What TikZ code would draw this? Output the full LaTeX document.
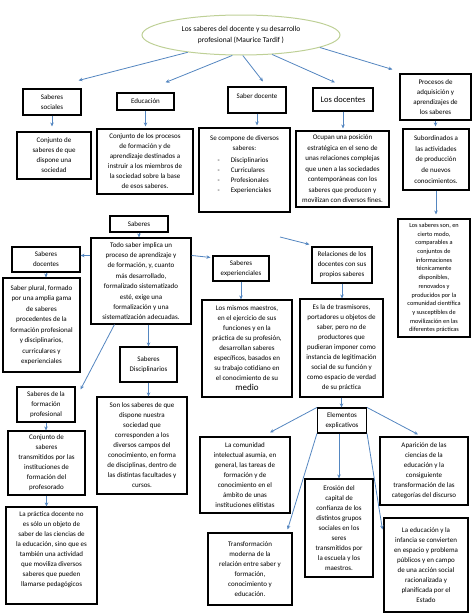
\documentclass[tikz,border=0pt]{standalone}
\usepackage{fontspec}
\setmainfont{Carlito}
\usetikzlibrary{shapes.geometric, arrows.meta}
\definecolor{flecha}{RGB}{84,134,192}
\definecolor{oliva}{RGB}{190,208,150}

\begin{document}
\begin{tikzpicture}[
    x=1pt, y=-1pt,
    caja/.style={draw, line width=1.1pt, align=center, inner sep=0pt, font=\fontsize{7}{10}\selectfont},
    every edge/.style={draw, -{Stealth[length=4pt, width=3.5pt]}, line width=0.8pt, flecha},
]
  \useasboundingbox (0,0) rectangle (474,613);

  \node[ellipse, draw=oliva, line width=1pt, minimum width=198pt, minimum height=40pt, inner sep=0pt, align=center, font=\fontsize{7.5}{11}\selectfont] (titulo) at (241,35) {Los saberes del docente y su desarrollo\\profesional (Maurice Tardif )};

  \node[caja, minimum width=58pt, minimum height=26pt] (sociales) at (52,102) {Saberes\\sociales};
  \node[caja, minimum width=57pt, minimum height=17pt] (educacion) at (145.5,101.5) {Educación};
  \node[caja, minimum width=58pt, minimum height=26pt, text depth=7pt] (saberdoc) at (257,100) {Saber docente};
  \node[caja, minimum width=60pt, minimum height=23pt, font=\fontsize{8.5}{10}\selectfont] (docentes) at (343,99.5) {Los docentes};
  \node[caja, minimum width=71pt, minimum height=46pt] (procesos) at (435.5,97) {Procesos de\\adquisición y\\aprendizajes de\\los saberes};

  \node[caja, minimum width=74pt, minimum height=47pt] (conjsoc) at (54,155.5) {Conjunto de\\saberes de que\\dispone una\\sociedad};
  \node[caja, minimum width=96pt, minimum height=65pt] (conjproc) at (145,161.5) {Conjunto de los procesos\\de formación y de\\aprendizaje destinados a\\instruir a los miembros de\\la sociedad sobre la base\\de esos saberes.};
  \node[caja, minimum width=91pt, minimum height=84pt] (compone) at (244.5,170) {Se compone de diversos\\saberes:\\[4pt]
    \begin{tabular}{@{}l@{\hspace{11pt}}l@{}}
      - & Disciplinarios\\
      - & Curriculares\\
      - & Profesionales\\
      - & Experienciales
    \end{tabular}\\[8pt]~};
  \node[caja, minimum width=93pt, minimum height=76pt, font=\fontsize{7}{10.5}\selectfont] (ocupan) at (342.5,169) {Ocupan una posición\\estratégica en el seno de\\unas relaciones complejas\\que unen a las sociedades\\contemporáneas con los\\saberes que producen y\\movilizan con diversos fines.};
  \node[caja, minimum width=66pt, minimum height=61pt, font=\fontsize{7}{10.7}\selectfont] (subord) at (436,159.5) {Subordinados a\\las actividades\\de producción\\de nuevos\\conocimientos.};
  \node[caja, minimum width=72pt, minimum height=118pt, font=\fontsize{6.3}{8.7}\selectfont] (lossab) at (434,278) {Los saberes son, en\\cierto modo,\\comparables a\\conjuntos de\\informaciones\\técnicamente\\disponibles,\\renovados y\\producidos por la\\comunidad científica\\y susceptibles de\\movilización en las\\diferentes prácticas};

  \node[caja, minimum width=58pt, minimum height=16pt] (saberes) at (139,224) {Saberes};
  \node[caja, minimum width=100pt, minimum height=86pt, font=\fontsize{7}{10.4}\selectfont] (todo) at (141,281) {Todo saber implica un\\proceso de aprendizaje y\\de formación, y, cuanto\\más desarrollado,\\formalizado sistematizado\\esté, exige una\\formalización y una\\sistematización adecuadas.};
  \node[caja, minimum width=68pt, minimum height=25pt] (sabdoc) at (46,259.5) {Saberes\\docentes};
  \node[caja, minimum width=77pt, minimum height=94pt, font=\fontsize{7}{10.5}\selectfont] (plural) at (41.5,325) {Saber plural, formado\\por una amplia gama\\de saberes\\procedentes de la\\formación profesional\\y disciplinarios,\\curriculares y\\experienciales};
  \node[caja, minimum width=56pt, minimum height=25pt] (sabexp) at (241,268.5) {Saberes\\experienciales};
  \node[caja, minimum width=60pt, minimum height=36pt] (relac) at (342,265) {Relaciones de los\\docentes con sus\\propios saberes};
  \coordinate (libre) at (280,237);
  \node[caja, minimum width=90pt, minimum height=97pt] (mismos) at (247,348.5) {Los mismos maestros,\\en el ejercicio de sus\\funciones y en la\\práctica de su profesión,\\desarrollan saberes\\específicos, basados en\\su trabajo cotidiano en\\el conocimiento de su\\{\fontsize{9}{10}\selectfont medio}};
  \node[caja, minimum width=83pt, minimum height=98pt] (esla) at (341.5,348) {Es la de trasmisores,\\portadores u objetos de\\saber, pero no de\\productores que\\pudieran imponer como\\instancia de legitimación\\social de su función y\\como espacio de verdad\\de su práctica};
  \node[caja, minimum width=49pt, minimum height=25pt] (elem) at (342,420.5) {Elementos\\explicativos};

  \node[caja, minimum width=57pt, minimum height=35pt] (disc) at (148.5,364.5) {Saberes\\Disciplinarios};
  \node[caja, minimum width=90pt, minimum height=97pt] (sonlos) at (142,445.5) {Son los saberes de que\\dispone nuestra\\sociedad que\\corresponden a los\\diversos campos del\\conocimiento, en forma\\de disciplinas, dentro de\\las distintas facultades y\\cursos.};
  \node[caja, minimum width=58pt, minimum height=35pt] (formprof) at (46,404.5) {Saberes de la\\formación\\profesional};
  \node[caja, minimum width=77pt, minimum height=64pt] (transm) at (46.5,463) {Conjunto de\\saberes\\transmitidos por las\\instituciones de\\formación del\\profesorado};
  \node[caja, minimum width=91pt, minimum height=97pt] (practica) at (51.5,555.5) {La práctica docente no\\es sólo un objeto de\\saber de las ciencias de\\la educación, sino que es\\también una actividad\\que moviliza diversos\\saberes que pueden\\llamarse pedagógicos\\[2pt]~};

  \node[caja, minimum width=90pt, minimum height=76pt] (comun) at (245,475) {La comunidad\\intelectual asumía, en\\general, las tareas de\\formación y de\\conocimiento en el\\ámbito de unas\\instituciones elitistas};
  \node[caja, minimum width=68pt, minimum height=98pt] (erosion) at (339,528) {Erosión del\\capital de\\confianza de los\\distintos grupos\\sociales en los\\seres\\transmitidos por\\la escuela y los\\maestros.};
  \node[caja, minimum width=88pt, minimum height=68pt] (aparic) at (424,471) {Aparición de las\\ciencias de la\\educación y la\\consiguiente\\transformación de las\\categorías del discurso};
  \node[caja, minimum width=84pt, minimum height=72pt] (transf) at (250,569) {Transformación\\moderna de la\\relación entre saber y\\formación,\\conocimiento y\\educación.};
  \node[caja, minimum width=84pt, minimum height=94pt] (educinf) at (426,565) {La educación y la\\infancia se convierten\\en espacio y problema\\públicos y en campo\\de una acción social\\racionalizada y\\planificada por el\\Estado};

  \path (titulo.198) edge ([xshift=-3pt,yshift=8pt]sociales.north east);
  \path (titulo.247) edge ([xshift=-9pt,yshift=10pt]educacion.north east);
  \path (titulo.275) edge ([xshift=6pt,yshift=5pt]saberdoc.north);
  \path (titulo.328) edge ([xshift=-8pt,yshift=5pt]docentes.north);
  \path (titulo.351) edge ([xshift=-7pt,yshift=4pt]procesos.north west);

  \path (sociales.south) edge ([yshift=5pt]sociales.south |- conjsoc.north);
  \path (educacion.south) edge ([yshift=2pt]educacion.south |- conjproc.north);
  \path (saberdoc.south) edge ([yshift=2pt]saberdoc.south |- compone.north);
  \path (docentes.south) edge ([yshift=2pt]docentes.south |- ocupan.north);
  \path (procesos.south) edge ([yshift=2pt]procesos.south |- subord.north);
  \path (subord.south) edge ([yshift=4pt]subord.south |- lossab.north);

  \path (saberes.south) edge (saberes.south |- todo.north);
  \path ([yshift=4pt]todo.west |- sabdoc.east) edge ([yshift=4pt]sabdoc.east);
  \path (todo.east |- sabexp.north west) edge ([xshift=-2pt,yshift=-2pt]sabexp.north west);
  \path (disc.north |- todo.south) edge (disc.north);
  \path ([xshift=24pt]todo.south west) edge ([xshift=5pt,yshift=-3pt]formprof.north east);
  \path (sabdoc.south) edge (sabdoc.south |- plural.north);
  \path (formprof.south) edge (formprof.south |- transm.north);
  \path (transm.south) edge (transm.south |- practica.north);
  \path (disc.south) edge (disc.south |- sonlos.north);
  \path (sabexp.south) edge (sabexp.south |- mismos.north);
  \path (libre) edge ([xshift=-2pt,yshift=2pt]relac.north west);
  \path (relac.south) edge (relac.south |- esla.north);
  \path (esla.south) edge (esla.south |- elem.north);

  \path (elem.north west) edge ([xshift=25pt,yshift=4pt]comun.north);
  \path (elem.north east) edge ([xshift=-6pt,yshift=2pt]aparic.north);
  \path (erosion.north |- elem.south) edge (erosion.north);
  \path (elem.south west) edge ([xshift=-5pt,yshift=3pt]transf.north east);
  \path (elem.south east) edge ([xshift=-1pt,yshift=-12pt]educinf.north west);
\end{tikzpicture}
\end{document}
